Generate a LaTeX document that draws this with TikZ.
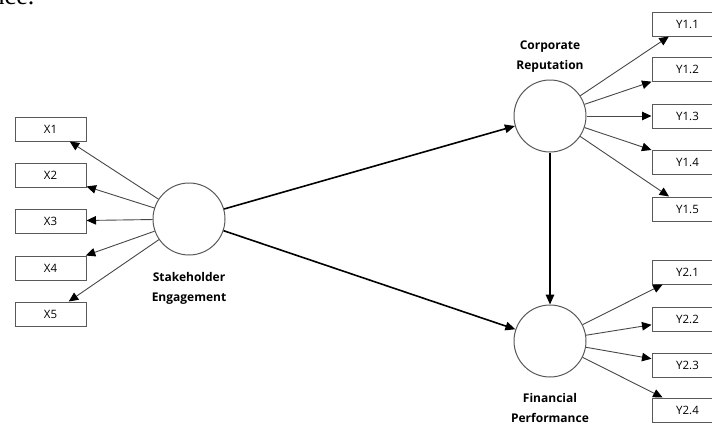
\documentclass[tikz,border=0pt]{standalone}
\usepackage{fontspec}
\setmainfont{Liberation Serif}
\newfontfamily\labfont{Open Sans}
\usetikzlibrary{arrows.meta}
\tikzset{
  indbox/.style={draw=black!65, line width=1pt, fill=white, minimum width=71pt, minimum height=24pt, inner sep=0pt, font=\labfont\fontsize{11.5}{13}\selectfont},
  latent/.style={circle, draw=black!65, line width=1pt, fill=white, minimum size=72pt, inner sep=0pt},
  latlabel/.style={align=center, font=\labfont\bfseries\fontsize{12}{20}\selectfont},
  loading/.style={draw=black!72, line width=0.9pt, -{Triangle[length=9.5pt,width=8.5pt,color=black]}},
  path/.style={draw=black, line width=1.6pt, -{Triangle[length=10pt,width=8.5pt]}},
}
\begin{document}
\begin{tikzpicture}[x=1pt,y=-1pt]
\useasboundingbox (0,0) rectangle (712,423);
\clip (0,0) rectangle (712,423);
\node[anchor=base west, inner sep=0pt, font=\fontsize{26}{28}\selectfont] (frag) at (-20,4.5) {ance.};
% latent variables
\node[latent] (SE) at (189,219) {};
\node[latent] (CR) at (550,116) {};
\node[latent] (FP) at (550,341) {};
\node[latlabel] (SEl) at (189,288) {Stakeholder\\Engagement};
\node[latlabel] (CRl) at (550,57) {Corporate\\Reputation};
\node[latlabel] (FPl) at (550,408) {Financial\\Performance};
% indicators
\node[indbox] (X1) at (50.5,129) {X1};
\node[indbox] (X2) at (50.5,175) {X2};
\node[indbox] (X3) at (50.5,221) {X3};
\node[indbox] (X4) at (50.5,268) {X4};
\node[indbox] (X5) at (50.5,314) {X5};
\node[indbox] (Y11) at (687.5,24) {Y1.1};
\node[indbox] (Y12) at (687.5,69.5) {Y1.2};
\node[indbox] (Y13) at (687.5,116) {Y1.3};
\node[indbox] (Y14) at (687.5,162) {Y1.4};
\node[indbox] (Y15) at (687.5,209) {Y1.5};
\node[indbox] (Y21) at (687.5,272) {Y2.1};
\node[indbox] (Y22) at (687.5,319) {Y2.2};
\node[indbox] (Y23) at (687.5,365) {Y2.3};
\node[indbox] (Y24) at (687.5,410) {Y2.4};
% loadings
\foreach \t in {X1,X2,X3,X4,X5} \draw[loading] (SE) -- (\t);
\foreach \t in {Y11,Y12,Y13,Y14,Y15} \draw[loading] (CR) -- (\t);
\foreach \t in {Y21,Y22,Y23,Y24} \draw[loading] (FP) -- (\t);
% structural paths
\draw[path] (SE) -- (CR);
\draw[path] (SE) -- (FP);
\draw[path] (CR) -- (FP);
\end{tikzpicture}
\end{document}
